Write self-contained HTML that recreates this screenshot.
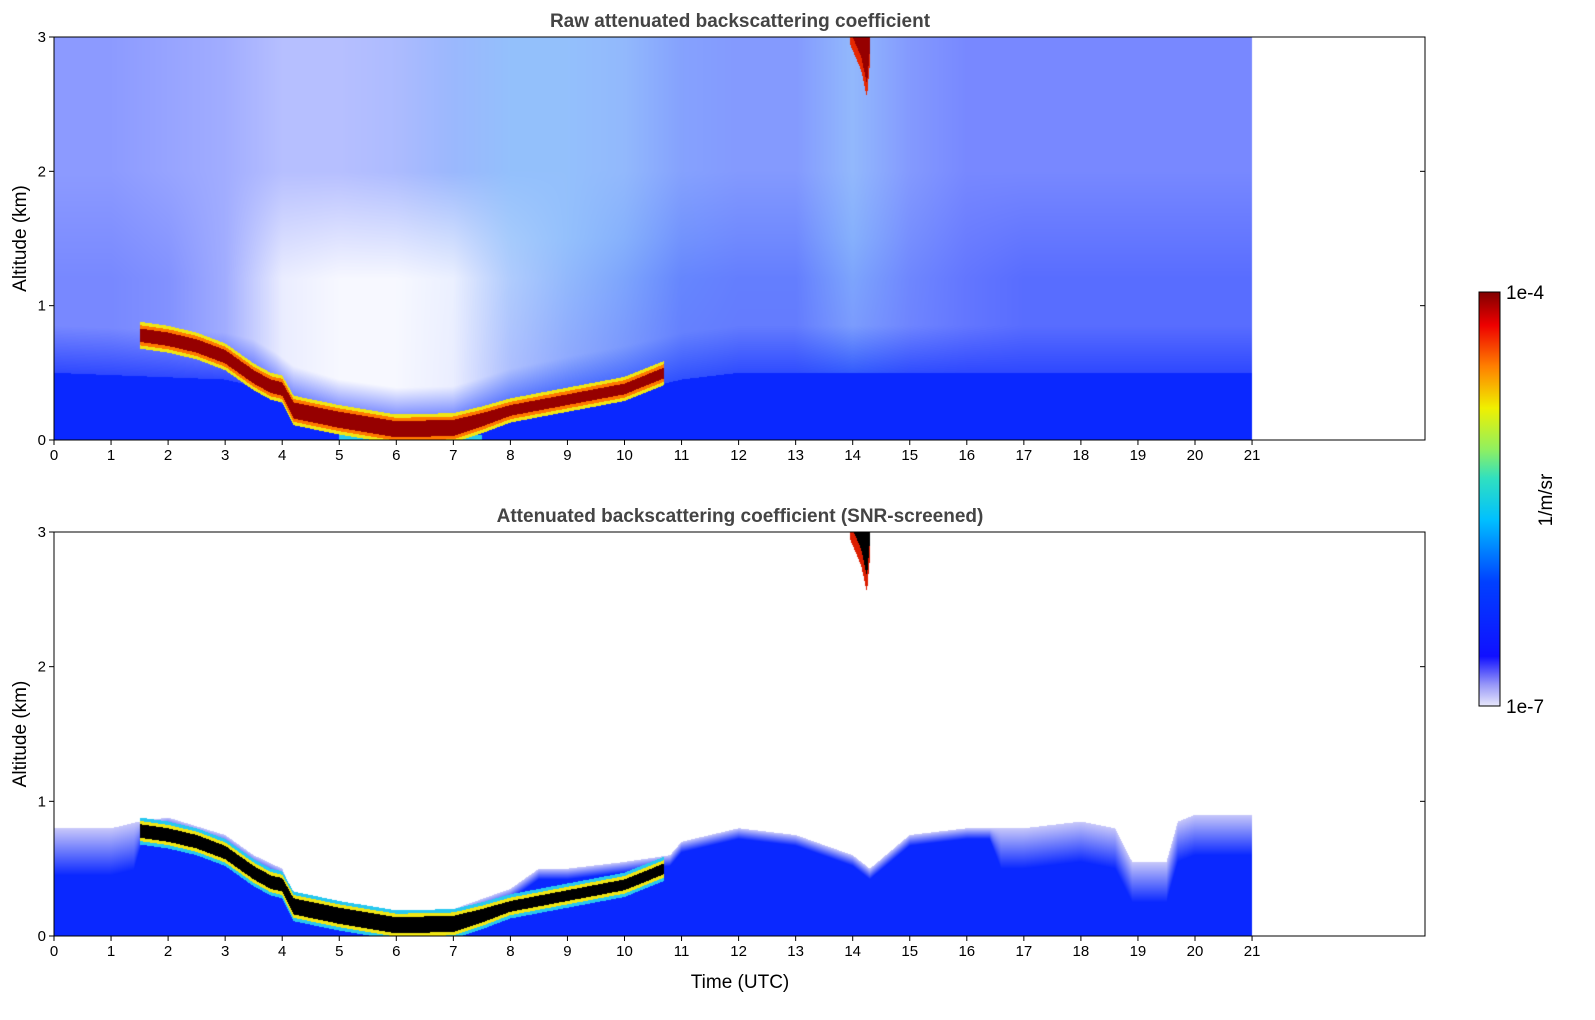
<!DOCTYPE html>
<html><head><meta charset="utf-8">
<style>
body{margin:0;background:#fff;width:1595px;height:1020px;position:relative;overflow:hidden;font-family:"Liberation Sans","DejaVu Sans",sans-serif}
canvas{position:absolute}
svg{position:absolute;left:0;top:0}
</style></head>
<body>
<canvas id="c1" width="1371" height="403" style="left:54px;top:37px"></canvas>
<canvas id="c2" width="1371" height="404" style="left:54px;top:532px"></canvas>
<svg id="ax" width="1595" height="1020"></svg>
<script>
// ---- data ----
const xTicks=[0,1,2,3,4,5,6,7,8,9,10,11,12,13,14,15,16,17,18,19,20,21];
const yTicks=[0,1,2,3];
const layerT=[1.5,2,2.5,3,3.5,3.8,4.0,4.2,5,6,7,7.5,8,9,10,10.7];
const layerZ=[0.78,0.75,0.7,0.62,0.47,0.4,0.38,0.22,0.15,0.08,0.09,0.15,0.22,0.3,0.38,0.5];
const layerW=[0.05,0.05,0.05,0.05,0.05,0.05,0.05,0.06,0.06,0.06,0.06,0.05,0.04,0.04,0.04,0.04];
const blueTopT=[0,3,3.5,3.9,4.2,5,6,7,8,9,10,11,12,21];
const blueTopZ=[0.5,0.45,0.4,0.3,0.2,0.1,0.04,0.05,0.18,0.27,0.35,0.45,0.5,0.5];
const hrs=[0,1,2,3,4,5,6,7,8,9,10,11,12,13,14,15,16,17,18,19,20,21];
const densLow=[0.65,0.65,0.6,0.45,0.1,0.04,0.04,0.1,0.4,0.55,0.65,0.75,0.75,0.75,0.65,0.7,0.75,0.8,0.8,0.8,0.8,0.8];
const densHigh=[0.55,0.55,0.5,0.45,0.35,0.35,0.4,0.5,0.55,0.55,0.55,0.6,0.6,0.6,0.55,0.6,0.65,0.65,0.65,0.65,0.65,0.65];
const greenTint=[0,0,0,0,0,0,0.1,0.3,0.5,0.5,0.4,0.2,0.1,0.1,0.4,0.1,0,0,0,0,0,0];
const botT=[0,1,1.5,2,3,3.5,4,4.2,5,6,7,8,8.5,9,10,10.8,11,12,13,14,14.3,15,16,17,18,18.6,18.9,19.5,19.7,20,21];
const botZ=[0.8,0.8,0.85,0.88,0.75,0.6,0.5,0.3,0.2,0.18,0.2,0.35,0.5,0.5,0.55,0.6,0.7,0.8,0.75,0.6,0.5,0.75,0.8,0.8,0.85,0.8,0.55,0.55,0.85,0.9,0.9];
const fadeT=[0,1.4,1.6,11,16.4,16.6,21];
const fadeW=[0.35,0.35,0.08,0.08,0.08,0.3,0.3];
const cloudT=[13.95,14.05,14.15,14.25,14.3];
const cloudZ=[2.95,2.85,2.75,2.55,2.8];

const PX=57.05;
function interp(ts,vs,t){if(t<=ts[0])return vs[0];for(let i=1;i<ts.length;i++){if(t<=ts[i]){const f=(t-ts[i-1])/(ts[i]-ts[i-1]);return vs[i-1]+f*(vs[i]-vs[i-1]);}}return vs[vs.length-1];}
function mix(a,b,f){return [a[0]+(b[0]-a[0])*f,a[1]+(b[1]-a[1])*f,a[2]+(b[2]-a[2])*f];}
const W=[255,255,255],BL=[10,40,255],CY=[40,200,240],YE=[240,230,20],OR=[255,120,0],DR=[150,0,0],BK=[0,0,0],LV=[200,200,250];
function layerCol(t,z,core,top){
  if(t<layerT[0]||t>layerT[layerT.length-1])return null;
  const L=interp(layerT,layerZ,t),w=interp(layerT,layerW,t),d=Math.abs(z-L);
  if(d<w)return core; if(d<w+0.025)return top?OR:YE; if(d<w+0.05)return top?YE:CY; return null;
}
function cloud(t,z,bottom){
  if(t<cloudT[0]||t>cloudT[cloudT.length-1])return null;
  const zb=interp(cloudT,cloudZ,t); if(z<zb)return null;
  if(bottom)return (z>zb+0.12)?BK:[220,30,0];
  return (z>zb+0.1)?DR:[230,40,0];
}
function render(id,bottom){
  const cv=document.getElementById(id),ctx=cv.getContext('2d'),w=cv.width,h=cv.height;
  const img=ctx.createImageData(w,h),D=img.data;
  for(let x=0;x<w;x++){
    const t=(x+0.5)/PX;
    for(let y=0;y<h;y++){
      const z=(h-y-0.5)/h*3;let c=W;
      if(t<=21){
        const cl=cloud(t,z,bottom);
        if(cl)c=cl;
        else if(!bottom){
          const B=interp(blueTopT,blueTopZ,t);
          const lc=layerCol(t,z,DR,true);
          if(lc)c=lc;
          else if(z<B)c=(z<0.04&&t>5&&t<7.5)?CY:BL;
          else{
            const dl=interp(hrs,densLow,t),dh=interp(hrs,densHigh,t),g=interp(hrs,greenTint,t);
            let dd;
            if(z<B+0.35)dd=1+(dl-1)*(z-B)/0.35;
            else if(z<1.2)dd=dl;
            else if(z<2)dd=dl+(dh-dl)*(z-1.2)/0.8;
            else dd=dh;
            const sc=mix(BL,CY,g*Math.min(1,z/1.5));
            c=mix(W,sc,dd*0.85);
          }
        }else{
          const T=interp(botT,botZ,t),fw=interp(fadeT,fadeW,t);
          const lc=layerCol(t,z,BK,false);
          if(lc)c=lc;
          else if(z<T-fw)c=BL;
          else if(z<T)c=mix(BL,LV,(z-(T-fw))/fw);
        }
      }
      const i=(y*w+x)*4;D[i]=c[0];D[i+1]=c[1];D[i+2]=c[2];D[i+3]=255;
    }
  }
  ctx.putImageData(img,0,0);
}
render('c1',false);render('c2',true);

// ---- axes ----
const NS='http://www.w3.org/2000/svg',svg=document.getElementById('ax');
function el(tag,attrs,txt){const e=document.createElementNS(NS,tag);for(const k in attrs)e.setAttribute(k,attrs[k]);if(txt!==undefined)e.textContent=txt;svg.appendChild(e);return e;}
function axes(top,h,title,showX){
  const left=54,wd=1371,x0=54;
  const fr=el('rect',{x:left,y:top,width:wd,height:h,fill:'none',stroke:'#000','stroke-width':1});
  
  
  xTicks.forEach(v=>{const x=x0+v*PX;
    el('line',{x1:x,x2:x,y1:top+h,y2:top+h+5,stroke:'#000'});
    const tx=el('text',{x:x,y:top+h+20,'text-anchor':'middle','font-size':15,fill:'#000'},String(v));
    
    });
  yTicks.forEach(v=>{const y=top+h-v*h/3;
    el('line',{x1:left-5,x2:left,y1:y,y2:y,stroke:'#000'});
    el('line',{x1:left+wd-5,x2:left+wd,y1:y,y2:y,stroke:'#000'});
    const tx=el('text',{x:left-8,y:y+5,'text-anchor':'end','font-size':15,fill:'#000'},String(v));
    
    });
  const yl=el('text',{x:26,y:top+h/2,'text-anchor':'middle','font-size':19,transform:`rotate(-90 26 ${top+h/2})`},'Altitude (km)');
  
  
  const tt=el('text',{x:740,y:top-10,'text-anchor':'middle','font-size':19,'font-weight':'bold',fill:'#444'},title);
  
  
  if(showX){const xl=el('text',{x:740,y:top+h+52,'text-anchor':'middle','font-size':19},'Time (UTC)');
    
    }
}
axes(37,403,'Raw attenuated backscattering coefficient',false);
axes(532,404,'Attenuated backscattering coefficient (SNR-screened)',true);
// colorbar
const defs=el('defs',{});
const lg=document.createElementNS(NS,'linearGradient');lg.setAttribute('id','jet');lg.setAttribute('x1','0');lg.setAttribute('y1','1');lg.setAttribute('x2','0');lg.setAttribute('y2','0');defs.appendChild(lg);
[[0,'#e8e8fb'],[0.05,'#9a9af8'],[0.12,'#1010ff'],[0.3,'#0040ff'],[0.45,'#00c0ff'],[0.55,'#30e0c0'],[0.62,'#90f060'],[0.72,'#f0f000'],[0.82,'#ff8000'],[0.92,'#ee0000'],[1,'#800000']].forEach(s=>{const st=document.createElementNS(NS,'stop');st.setAttribute('offset',s[0]);st.setAttribute('stop-color',s[1]);lg.appendChild(st);});
const cb=el('rect',{x:1479,y:292,width:21,height:414,fill:'url(#jet)',stroke:'#000'});


const c1=el('text',{x:1506,y:299,'font-size':19},'1e-4');


const c2=el('text',{x:1506,y:713,'font-size':19},'1e-7');


const c3=el('text',{x:1552,y:500,'text-anchor':'middle','font-size':19,transform:'rotate(-90 1552 500)'},'1/m/sr');


</script>
</body></html>
